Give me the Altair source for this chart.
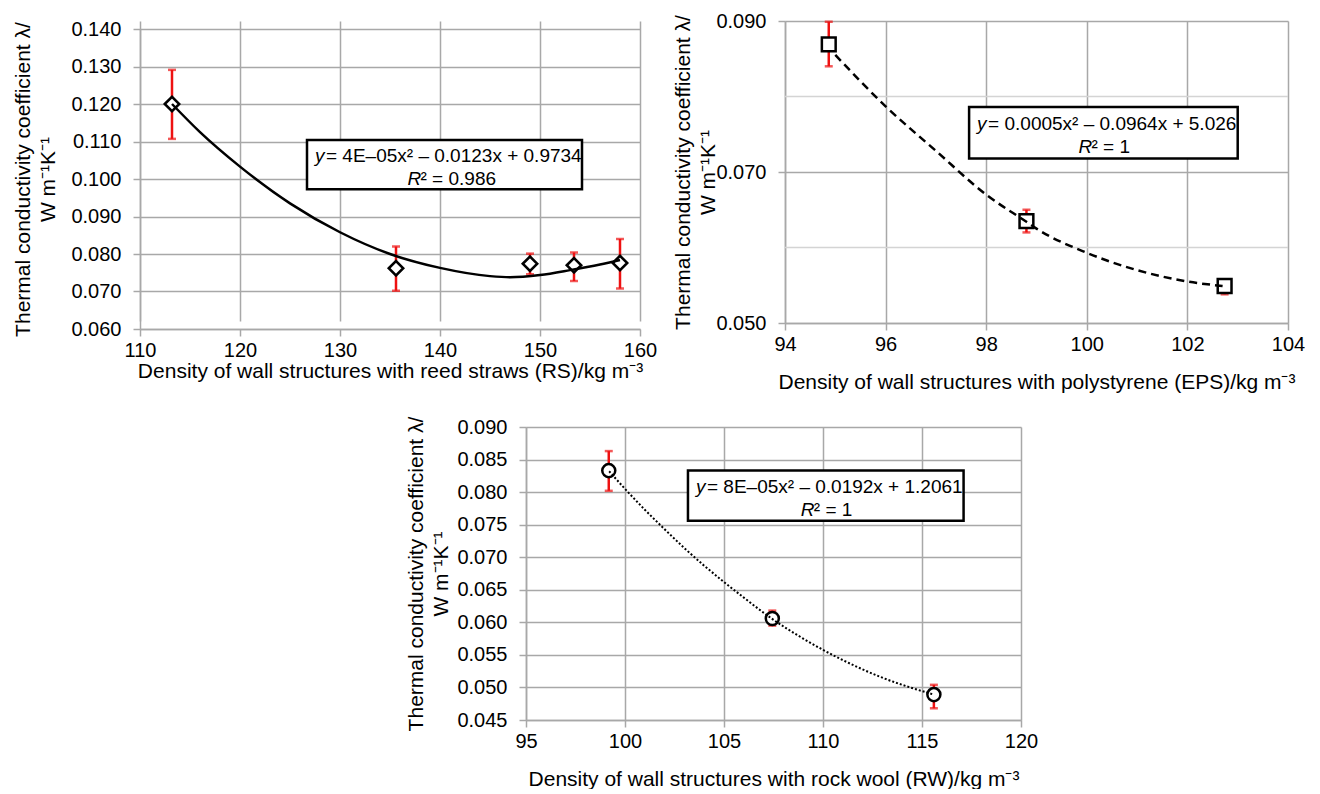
import altair as alt
import pandas as pd

FONT = "Liberation Sans"
GRID = "#a8a8a8"
MINOR = "#d4d4d4"
RED = "#ee1111"
LFS = 20   # tick labels
TFS = 21   # axis titles
EFS = 19   # equation text

# ---------------- Panel 1: reed straws (RS) ----------------
rs_density = [113.2, 135.6, 149.0, 153.4, 158.0]
rs_lambda = [0.1200, 0.0762, 0.0774, 0.0770, 0.0776]
rs_err_low = [0.1107, 0.0702, 0.0746, 0.0728, 0.0708]
rs_err_high = [0.1291, 0.0820, 0.0801, 0.0804, 0.0840]
rs_fit_x = [113.2, 116, 120, 125, 130, 135, 140, 145, 147, 150, 153, 156, 158]
rs_fit_y = [0.1200, 0.1125, 0.1033, 0.0935, 0.0858, 0.0800, 0.0763, 0.0741,
            0.0738, 0.0744, 0.0757, 0.0772, 0.0784]
rs_x_ticks = [110, 120, 130, 140, 150, 160]
rs_y_ticks = [0.060, 0.070, 0.080, 0.090, 0.100, 0.110, 0.120, 0.130, 0.140]
rs_eq = "= 4E\u201305x\u00b2 \u2013 0.0123x + 0.9734"
rs_r2 = "\u00b2 = 0.986"

# ---------------- Panel 2: polystyrene (EPS) ----------------
eps_density = [94.87, 98.80, 102.74]
eps_lambda = [0.0869, 0.0635, 0.0549]
eps_err_low = [0.0840, 0.0620, 0.0538]
eps_err_high = [0.0899, 0.0650, 0.0552]
eps_fit_x = [95.0, 96, 97, 98, 98.8, 99, 100, 101, 102, 102.7]
eps_fit_y = [0.0855, 0.0787, 0.0728, 0.0670, 0.0634, 0.0625, 0.0593, 0.0570,
             0.0555, 0.0549]
eps_x_ticks = [94, 96, 98, 100, 102, 104]
eps_y_ticks = [0.050, 0.070, 0.090]
eps_y_minor = [0.060, 0.080]
eps_eq = "= 0.0005x\u00b2 \u2013 0.0964x + 5.026"
eps_r2 = "\u00b2 = 1"

# ---------------- Panel 3: rock wool (RW) ----------------
rw_density = [99.18, 107.44, 115.6]
rw_lambda = [0.0833, 0.0606, 0.0489]
rw_err_low = [0.0802, 0.0595, 0.0468]
rw_err_high = [0.0863, 0.0618, 0.0504]
rw_fit_x = [99.2, 100, 101, 102, 103, 104, 105, 106, 107.4, 109, 111, 113, 115.6]
rw_fit_y = [0.0832, 0.0805, 0.0773, 0.0743, 0.0714, 0.0687, 0.0662, 0.0638,
            0.0606, 0.0575, 0.0542, 0.0515, 0.0489]
rw_x_ticks = [95, 100, 105, 110, 115, 120]
rw_y_ticks = [0.045, 0.050, 0.055, 0.060, 0.065, 0.070, 0.075, 0.080, 0.085, 0.090]
rw_eq = "= 8E\u201305x\u00b2 \u2013 0.0192x + 1.2061"
rw_r2 = "\u00b2 = 1"

Y_TITLE = ["Thermal conductivity coefficient \u03bb/", "W m\u207b\u00b9K\u207b\u00b9"]


def panel(xs, ys, lo, hi, fx, fy, x_ticks, y_ticks, y_minor, shape, msize,
          dash, lw, eq, r2, box, r2_shift, xtitle, w, h, xtitle_pad, top_gap,
          ytitle_pad):
    xdom = [x_ticks[0], x_ticks[-1]]
    ydom = [y_ticks[0], y_ticks[-1]]
    xaxis = alt.Axis(values=x_ticks, format="d", grid=True, gridColor=GRID,
                     gridWidth=1.5, domainColor=GRID, domainWidth=1.5,
                     tickColor=GRID, tickWidth=1.5, tickSize=7,
                     labelFont=FONT, labelFontSize=LFS, labelColor="black",
                     labelPadding=4, labelFlush=False, title=xtitle,
                     titleFont=FONT, titleFontSize=TFS, titleFontWeight="normal",
                     titleColor="black", titlePadding=xtitle_pad)
    yaxis = alt.Axis(values=y_ticks, format=".3f", grid=True, gridColor=GRID,
                     gridWidth=1.5, domainColor=GRID, domainWidth=1.5,
                     tickColor=GRID, tickWidth=1.5, tickSize=7,
                     labelFont=FONT, labelFontSize=LFS, labelColor="black",
                     labelPadding=12, labelFlush=False, title=Y_TITLE,
                     titleFont=FONT, titleFontSize=TFS, titleFontWeight="normal",
                     titleColor="black", titlePadding=ytitle_pad, titleLineHeight=25)
    full_h = h + top_gap
    xs_ = alt.Scale(domain=xdom, nice=False, zero=False)
    ys_ = alt.Scale(domain=ydom, nice=False, zero=False, range=[full_h, top_gap])

    def X(f):
        return alt.X(f"{f}:Q", scale=xs_, axis=xaxis, title=xtitle)

    def Y(f):
        return alt.Y(f"{f}:Q", scale=ys_, axis=yaxis, title=Y_TITLE)

    pts = pd.DataFrame({"x": xs, "y": ys, "lo": lo, "hi": hi})
    fit = pd.DataFrame({"x": fx, "y": fy})
    bx = pd.DataFrame({"x": [box[0]], "x2": [box[1]], "y": [box[2]], "y2": [box[3]],
                       "cx": [(box[0] + box[1]) / 2], "cy": [(box[2] + box[3]) / 2]})

    layers = []
    if y_minor:
        mn = pd.DataFrame({"y": y_minor})
        layers.append(alt.Chart(mn).mark_rule(color=MINOR, strokeWidth=1.5)
                      .encode(y=Y("y")))
    err = alt.Chart(pts).mark_rule(color=RED, strokeWidth=2.5).encode(
        x=X("x"), y=Y("lo"), y2="hi:Q")
    cap_lo = alt.Chart(pts).mark_tick(color=RED, thickness=2.5, size=8,
                                      orient="horizontal").encode(x=X("x"), y=Y("lo"))
    cap_hi = alt.Chart(pts).mark_tick(color=RED, thickness=2.5, size=8,
                                      orient="horizontal").encode(x=X("x"), y=Y("hi"))
    mk = alt.Chart(pts).mark_point(shape=shape, size=msize, filled=False,
                                   fill="white", fillOpacity=1, stroke="black",
                                   strokeWidth=2.5, opacity=1).encode(x=X("x"), y=Y("y"))
    line_kw = dict(color="black", strokeWidth=lw, interpolate="monotone")
    if dash:
        line_kw["strokeDash"] = dash
    ln = alt.Chart(fit).mark_line(**line_kw).encode(x=X("x"), y=Y("y"))
    rect = alt.Chart(bx).mark_rect(fill="white", stroke="black", strokeWidth=2.5).encode(
        x=X("x"), x2="x2:Q", y=Y("y"), y2="y2:Q")
    t_y = alt.Chart(bx).mark_text(text="y", font=FONT, fontSize=EFS, fontStyle="italic",
                                  align="left", baseline="middle", dx=8, dy=-9).encode(
        x=X("x"), y=Y("cy"))
    t_eq = alt.Chart(bx).mark_text(text=eq, font=FONT, fontSize=EFS, align="left",
                                   baseline="middle", dx=19, dy=-9).encode(
        x=X("x"), y=Y("cy"))
    t_r = alt.Chart(bx).mark_text(text="R", font=FONT, fontSize=EFS, fontStyle="italic",
                                  align="left", baseline="middle", dx=-r2_shift, dy=14).encode(
        x=X("cx"), y=Y("cy"))
    t_r2 = alt.Chart(bx).mark_text(text=r2, font=FONT, fontSize=EFS, align="left",
                                   baseline="middle", dx=-r2_shift + 13, dy=14).encode(
        x=X("cx"), y=Y("cy"))
    layers += [err, cap_lo, cap_hi, mk, ln, rect, t_y, t_eq, t_r, t_r2]
    return alt.layer(*layers).properties(width=w, height=full_h)


p1 = panel(rs_density, rs_lambda, rs_err_low, rs_err_high, rs_fit_x, rs_fit_y,
           rs_x_ticks, rs_y_ticks, None, "diamond", 210, None, 2.5, rs_eq, rs_r2,
           [126.7, 154.2, 0.1104, 0.0973], 37,
           "Density of wall structures with reed straws (RS)/kg m\u207b\u00b3",
           500, 300, 0, 8, 12)
p2 = panel(eps_density, eps_lambda, eps_err_low, eps_err_high, eps_fit_x, eps_fit_y,
           eps_x_ticks, eps_y_ticks, eps_y_minor, "square", 190, [8, 5], 2.5, eps_eq, eps_r2,
           [97.66, 103.0, 0.0786, 0.0718], 25,
           "Density of wall structures with polystyrene (EPS)/kg m\u207b\u00b3",
           503, 302, 17, 0, -3)
p3 = panel(rw_density, rw_lambda, rw_err_low, rw_err_high, rw_fit_x, rw_fit_y,
           rw_x_ticks, rw_y_ticks, None, "circle", 170, [2, 2], 2, rw_eq, rw_r2,
           [103.18, 117.1, 0.0833, 0.0756], 25,
           "Density of wall structures with rock wool (RW)/kg m\u207b\u00b3",
           495, 293, 17, 0, 5)

spacer = alt.Chart(pd.DataFrame({"v": [0]})).mark_point(opacity=0).encode(
    x=alt.X("v:Q", axis=None), y=alt.Y("v:Q", axis=None)).properties(width=255, height=10)

top = alt.hconcat(p1, p2, spacing=15)
bottom = alt.hconcat(spacer, p3, spacing=10)
chart = alt.vconcat(top, bottom, spacing=24).properties(
    padding={"left": 4, "top": 3, "right": 0, "bottom": 0},
    background="white"
).configure_view(strokeWidth=0, stroke="transparent")

chart.save("out.html", embed_options={"renderer": "svg", "actions": False})
